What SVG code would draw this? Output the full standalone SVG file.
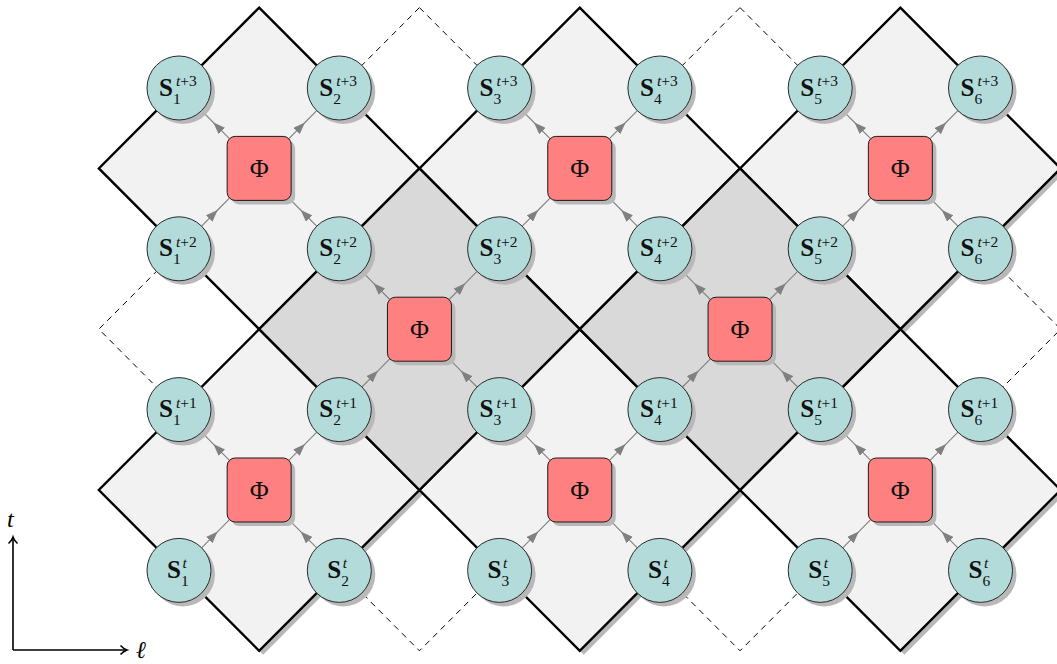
<svg xmlns="http://www.w3.org/2000/svg" xmlns:xlink="http://www.w3.org/1999/xlink" width="1057" height="664" viewBox="0 0 1057 664">
<style>
.sh{fill:#b8b8b8}
.cir{fill:#b3dbda;stroke:#2a2a2a;stroke-width:1}
.phi{fill:#ff8080;stroke:#1a1a1a;stroke-width:1}
.lab{font-family:"Liberation Serif",serif;fill:#111}
.S{font-weight:bold;font-size:25px}
.sc{font-size:15.5px}
.it{font-style:italic}
.phit{font-family:"Liberation Serif",serif;font-size:26px;fill:#111;text-anchor:middle}
.dia{stroke:#000;stroke-width:2.4;stroke-linejoin:miter}
.light{fill:#f2f2f2}
.dark{fill:#d9d9d9}
.dash{fill:none;stroke:#000;stroke-width:1;stroke-dasharray:6 5}
.conn{fill:none;stroke:#808080;stroke-width:1.1;marker-mid:url(#ah)}
.axis{fill:none;stroke:#000;stroke-width:1.6}
.axl{font-family:"Liberation Serif","DejaVu Serif",serif;font-style:italic;font-size:24px;fill:#000}
</style>
<defs>
<marker id="ah" viewBox="0 0 12 9" refX="12" refY="4.5" markerWidth="12" markerHeight="9" markerUnits="userSpaceOnUse" orient="auto"><path d="M0,0 L12,4.5 L0,9 z" fill="#808080"/></marker>
<g id="arr">
<path class="conn" d="M-57.55,57.8 L-41.5,41.6 L-29.7,29.7"/>
<path class="conn" d="M57.55,57.8 L41.5,41.6 L29.7,29.7"/>
<path class="conn" d="M-29.7,-29.7 L-45.8,-45.9 L-57.55,-57.8"/>
<path class="conn" d="M29.7,-29.7 L45.8,-45.9 L57.55,-57.8"/>
</g>
</defs>
<rect width="1057" height="664" fill="#fff"/>
<g id="dashed-cells">
<polygon class="dash" points="419.45,7.6 579.75,168.4 419.45,329.2 259.15,168.4"/>
<polygon class="dash" points="740.05,7.6 900.35,168.4 740.05,329.2 579.75,168.4"/>
<polygon class="dash" points="259.15,168.4 419.45,329.2 259.15,490 98.85,329.2"/>
<polygon class="dash" points="900.35,168.4 1060.65,329.2 900.35,490 740.05,329.2"/>
<polygon class="dash" points="419.45,329.2 579.75,490 419.45,650.8 259.15,490"/>
<polygon class="dash" points="740.05,329.2 900.35,490 740.05,650.8 579.75,490"/>
</g>
<g id="cell-shadows" class="sh" transform="translate(4,4)">
<polygon points="259.15,7.6 419.45,168.4 259.15,329.2 98.85,168.4"/>
<polygon points="579.75,7.6 740.05,168.4 579.75,329.2 419.45,168.4"/>
<polygon points="900.35,7.6 1060.65,168.4 900.35,329.2 740.05,168.4"/>
<polygon points="419.45,168.4 579.75,329.2 419.45,490 259.15,329.2"/>
<polygon points="740.05,168.4 900.35,329.2 740.05,490 579.75,329.2"/>
<polygon points="259.15,329.2 419.45,490 259.15,650.8 98.85,490"/>
<polygon points="579.75,329.2 740.05,490 579.75,650.8 419.45,490"/>
<polygon points="900.35,329.2 1060.65,490 900.35,650.8 740.05,490"/>
</g>
<g id="cells">
<polygon class="dia light" points="259.15,7.6 419.45,168.4 259.15,329.2 98.85,168.4"/>
<polygon class="dia light" points="579.75,7.6 740.05,168.4 579.75,329.2 419.45,168.4"/>
<polygon class="dia light" points="900.35,7.6 1060.65,168.4 900.35,329.2 740.05,168.4"/>
<polygon class="dia light" points="259.15,329.2 419.45,490 259.15,650.8 98.85,490"/>
<polygon class="dia light" points="579.75,329.2 740.05,490 579.75,650.8 419.45,490"/>
<polygon class="dia light" points="900.35,329.2 1060.65,490 900.35,650.8 740.05,490"/>
<polygon class="dia dark" points="419.45,168.4 579.75,329.2 419.45,490 259.15,329.2"/>
<polygon class="dia dark" points="740.05,168.4 900.35,329.2 740.05,490 579.75,329.2"/>
</g>
<g id="connectors">
<use xlink:href="#arr" transform="translate(259.15,168.4)"/>
<use xlink:href="#arr" transform="translate(579.75,168.4)"/>
<use xlink:href="#arr" transform="translate(900.35,168.4)"/>
<use xlink:href="#arr" transform="translate(419.45,329.2)"/>
<use xlink:href="#arr" transform="translate(740.05,329.2)"/>
<use xlink:href="#arr" transform="translate(259.15,490)"/>
<use xlink:href="#arr" transform="translate(579.75,490)"/>
<use xlink:href="#arr" transform="translate(900.35,490)"/>
</g>
<g id="phi-1"><rect class="sh" x="231.15" y="140.4" width="64" height="64" rx="8"/><rect class="phi" x="227.15" y="136.4" width="64" height="64" rx="8"/><text class="phit" x="259.15" y="177.4">Φ</text></g>
<g id="phi-2"><rect class="sh" x="551.75" y="140.4" width="64" height="64" rx="8"/><rect class="phi" x="547.75" y="136.4" width="64" height="64" rx="8"/><text class="phit" x="579.75" y="177.4">Φ</text></g>
<g id="phi-3"><rect class="sh" x="872.35" y="140.4" width="64" height="64" rx="8"/><rect class="phi" x="868.35" y="136.4" width="64" height="64" rx="8"/><text class="phit" x="900.35" y="177.4">Φ</text></g>
<g id="phi-4"><rect class="sh" x="391.45" y="301.2" width="64" height="64" rx="8"/><rect class="phi" x="387.45" y="297.2" width="64" height="64" rx="8"/><text class="phit" x="419.45" y="338.2">Φ</text></g>
<g id="phi-5"><rect class="sh" x="712.05" y="301.2" width="64" height="64" rx="8"/><rect class="phi" x="708.05" y="297.2" width="64" height="64" rx="8"/><text class="phit" x="740.05" y="338.2">Φ</text></g>
<g id="phi-6"><rect class="sh" x="231.15" y="462" width="64" height="64" rx="8"/><rect class="phi" x="227.15" y="458" width="64" height="64" rx="8"/><text class="phit" x="259.15" y="499">Φ</text></g>
<g id="phi-7"><rect class="sh" x="551.75" y="462" width="64" height="64" rx="8"/><rect class="phi" x="547.75" y="458" width="64" height="64" rx="8"/><text class="phit" x="579.75" y="499">Φ</text></g>
<g id="phi-8"><rect class="sh" x="872.35" y="462" width="64" height="64" rx="8"/><rect class="phi" x="868.35" y="458" width="64" height="64" rx="8"/><text class="phit" x="900.35" y="499">Φ</text></g>

<g id="s1-t3"><circle class="sh" cx="183" cy="92" r="32"/><circle class="cir" cx="179" cy="88" r="32"/><text class="lab"><tspan class="S" x="159" y="95.5">S</tspan><tspan class="sc" x="176" y="86"><tspan class="it">t</tspan>+3</tspan><tspan class="sc" x="173" y="103.5">1</tspan></text></g>
<g id="s2-t3"><circle class="sh" cx="343.3" cy="92" r="32"/><circle class="cir" cx="339.3" cy="88" r="32"/><text class="lab"><tspan class="S" x="319.3" y="95.5">S</tspan><tspan class="sc" x="336.3" y="86"><tspan class="it">t</tspan>+3</tspan><tspan class="sc" x="333.3" y="103.5">2</tspan></text></g>
<g id="s3-t3"><circle class="sh" cx="503.6" cy="92" r="32"/><circle class="cir" cx="499.6" cy="88" r="32"/><text class="lab"><tspan class="S" x="479.6" y="95.5">S</tspan><tspan class="sc" x="496.6" y="86"><tspan class="it">t</tspan>+3</tspan><tspan class="sc" x="493.6" y="103.5">3</tspan></text></g>
<g id="s4-t3"><circle class="sh" cx="663.9" cy="92" r="32"/><circle class="cir" cx="659.9" cy="88" r="32"/><text class="lab"><tspan class="S" x="639.9" y="95.5">S</tspan><tspan class="sc" x="656.9" y="86"><tspan class="it">t</tspan>+3</tspan><tspan class="sc" x="653.9" y="103.5">4</tspan></text></g>
<g id="s5-t3"><circle class="sh" cx="824.2" cy="92" r="32"/><circle class="cir" cx="820.2" cy="88" r="32"/><text class="lab"><tspan class="S" x="800.2" y="95.5">S</tspan><tspan class="sc" x="817.2" y="86"><tspan class="it">t</tspan>+3</tspan><tspan class="sc" x="814.2" y="103.5">5</tspan></text></g>
<g id="s6-t3"><circle class="sh" cx="984.5" cy="92" r="32"/><circle class="cir" cx="980.5" cy="88" r="32"/><text class="lab"><tspan class="S" x="960.5" y="95.5">S</tspan><tspan class="sc" x="977.5" y="86"><tspan class="it">t</tspan>+3</tspan><tspan class="sc" x="974.5" y="103.5">6</tspan></text></g>

<g id="s1-t2"><circle class="sh" cx="183" cy="252.8" r="32"/><circle class="cir" cx="179" cy="248.8" r="32"/><text class="lab"><tspan class="S" x="159" y="256.3">S</tspan><tspan class="sc" x="176" y="246.8"><tspan class="it">t</tspan>+2</tspan><tspan class="sc" x="173" y="264.3">1</tspan></text></g>
<g id="s2-t2"><circle class="sh" cx="343.3" cy="252.8" r="32"/><circle class="cir" cx="339.3" cy="248.8" r="32"/><text class="lab"><tspan class="S" x="319.3" y="256.3">S</tspan><tspan class="sc" x="336.3" y="246.8"><tspan class="it">t</tspan>+2</tspan><tspan class="sc" x="333.3" y="264.3">2</tspan></text></g>
<g id="s3-t2"><circle class="sh" cx="503.6" cy="252.8" r="32"/><circle class="cir" cx="499.6" cy="248.8" r="32"/><text class="lab"><tspan class="S" x="479.6" y="256.3">S</tspan><tspan class="sc" x="496.6" y="246.8"><tspan class="it">t</tspan>+2</tspan><tspan class="sc" x="493.6" y="264.3">3</tspan></text></g>
<g id="s4-t2"><circle class="sh" cx="663.9" cy="252.8" r="32"/><circle class="cir" cx="659.9" cy="248.8" r="32"/><text class="lab"><tspan class="S" x="639.9" y="256.3">S</tspan><tspan class="sc" x="656.9" y="246.8"><tspan class="it">t</tspan>+2</tspan><tspan class="sc" x="653.9" y="264.3">4</tspan></text></g>
<g id="s5-t2"><circle class="sh" cx="824.2" cy="252.8" r="32"/><circle class="cir" cx="820.2" cy="248.8" r="32"/><text class="lab"><tspan class="S" x="800.2" y="256.3">S</tspan><tspan class="sc" x="817.2" y="246.8"><tspan class="it">t</tspan>+2</tspan><tspan class="sc" x="814.2" y="264.3">5</tspan></text></g>
<g id="s6-t2"><circle class="sh" cx="984.5" cy="252.8" r="32"/><circle class="cir" cx="980.5" cy="248.8" r="32"/><text class="lab"><tspan class="S" x="960.5" y="256.3">S</tspan><tspan class="sc" x="977.5" y="246.8"><tspan class="it">t</tspan>+2</tspan><tspan class="sc" x="974.5" y="264.3">6</tspan></text></g>

<g id="s1-t1"><circle class="sh" cx="183" cy="413.6" r="32"/><circle class="cir" cx="179" cy="409.6" r="32"/><text class="lab"><tspan class="S" x="159" y="417.1">S</tspan><tspan class="sc" x="176" y="407.6"><tspan class="it">t</tspan>+1</tspan><tspan class="sc" x="173" y="425.1">1</tspan></text></g>
<g id="s2-t1"><circle class="sh" cx="343.3" cy="413.6" r="32"/><circle class="cir" cx="339.3" cy="409.6" r="32"/><text class="lab"><tspan class="S" x="319.3" y="417.1">S</tspan><tspan class="sc" x="336.3" y="407.6"><tspan class="it">t</tspan>+1</tspan><tspan class="sc" x="333.3" y="425.1">2</tspan></text></g>
<g id="s3-t1"><circle class="sh" cx="503.6" cy="413.6" r="32"/><circle class="cir" cx="499.6" cy="409.6" r="32"/><text class="lab"><tspan class="S" x="479.6" y="417.1">S</tspan><tspan class="sc" x="496.6" y="407.6"><tspan class="it">t</tspan>+1</tspan><tspan class="sc" x="493.6" y="425.1">3</tspan></text></g>
<g id="s4-t1"><circle class="sh" cx="663.9" cy="413.6" r="32"/><circle class="cir" cx="659.9" cy="409.6" r="32"/><text class="lab"><tspan class="S" x="639.9" y="417.1">S</tspan><tspan class="sc" x="656.9" y="407.6"><tspan class="it">t</tspan>+1</tspan><tspan class="sc" x="653.9" y="425.1">4</tspan></text></g>
<g id="s5-t1"><circle class="sh" cx="824.2" cy="413.6" r="32"/><circle class="cir" cx="820.2" cy="409.6" r="32"/><text class="lab"><tspan class="S" x="800.2" y="417.1">S</tspan><tspan class="sc" x="817.2" y="407.6"><tspan class="it">t</tspan>+1</tspan><tspan class="sc" x="814.2" y="425.1">5</tspan></text></g>
<g id="s6-t1"><circle class="sh" cx="984.5" cy="413.6" r="32"/><circle class="cir" cx="980.5" cy="409.6" r="32"/><text class="lab"><tspan class="S" x="960.5" y="417.1">S</tspan><tspan class="sc" x="977.5" y="407.6"><tspan class="it">t</tspan>+1</tspan><tspan class="sc" x="974.5" y="425.1">6</tspan></text></g>

<g id="s1-t0"><circle class="sh" cx="183" cy="574.4" r="32"/><circle class="cir" cx="179" cy="570.4" r="32"/><text class="lab"><tspan class="S" x="167" y="577.9">S</tspan><tspan class="sc it" x="182.5" y="568.4">t</tspan><tspan class="sc" x="181" y="585.9">1</tspan></text></g>
<g id="s2-t0"><circle class="sh" cx="343.3" cy="574.4" r="32"/><circle class="cir" cx="339.3" cy="570.4" r="32"/><text class="lab"><tspan class="S" x="327.3" y="577.9">S</tspan><tspan class="sc it" x="342.8" y="568.4">t</tspan><tspan class="sc" x="341.3" y="585.9">2</tspan></text></g>
<g id="s3-t0"><circle class="sh" cx="503.6" cy="574.4" r="32"/><circle class="cir" cx="499.6" cy="570.4" r="32"/><text class="lab"><tspan class="S" x="487.6" y="577.9">S</tspan><tspan class="sc it" x="503.1" y="568.4">t</tspan><tspan class="sc" x="501.6" y="585.9">3</tspan></text></g>
<g id="s4-t0"><circle class="sh" cx="663.9" cy="574.4" r="32"/><circle class="cir" cx="659.9" cy="570.4" r="32"/><text class="lab"><tspan class="S" x="647.9" y="577.9">S</tspan><tspan class="sc it" x="663.4" y="568.4">t</tspan><tspan class="sc" x="661.9" y="585.9">4</tspan></text></g>
<g id="s5-t0"><circle class="sh" cx="824.2" cy="574.4" r="32"/><circle class="cir" cx="820.2" cy="570.4" r="32"/><text class="lab"><tspan class="S" x="808.2" y="577.9">S</tspan><tspan class="sc it" x="823.7" y="568.4">t</tspan><tspan class="sc" x="822.2" y="585.9">5</tspan></text></g>
<g id="s6-t0"><circle class="sh" cx="984.5" cy="574.4" r="32"/><circle class="cir" cx="980.5" cy="570.4" r="32"/><text class="lab"><tspan class="S" x="968.5" y="577.9">S</tspan><tspan class="sc it" x="984" y="568.4">t</tspan><tspan class="sc" x="982.5" y="585.9">6</tspan></text></g>

<g id="axes">
<path class="axis" d="M13,650 L13,538 M13,650 L126,650"/>
<path class="axis" d="M8.5,543.5 Q11.8,540.5 13,537 Q14.2,540.5 17.5,543.5"/>
<path class="axis" d="M120.5,645.5 Q123.5,648.8 127,650 Q123.5,651.2 120.5,654.5"/>
<text class="axl" x="7" y="527">t</text>
<text class="axl" x="136" y="658">ℓ</text>
</g>
</svg>
